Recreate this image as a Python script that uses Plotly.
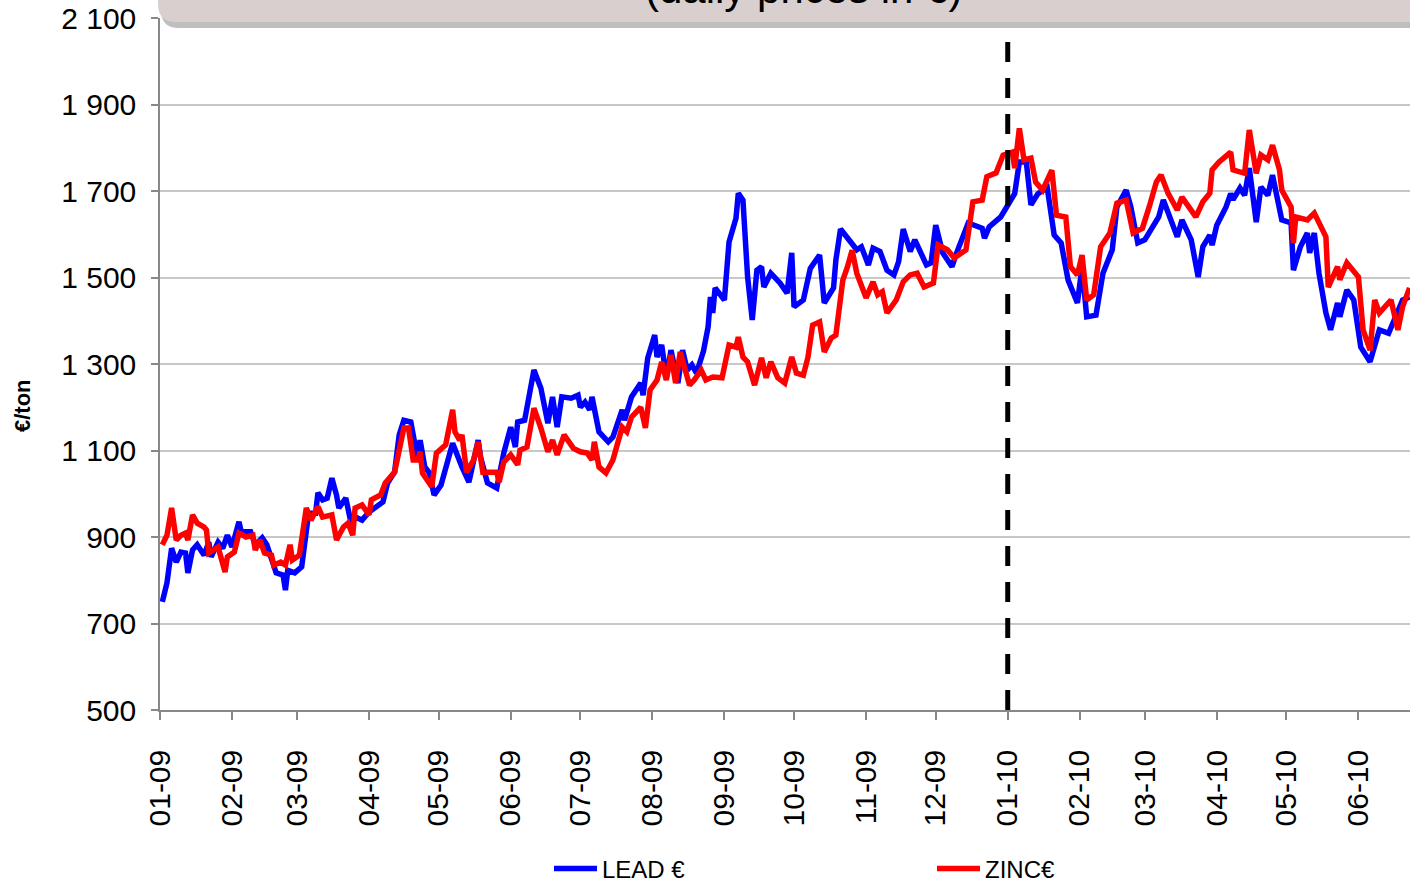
import pandas as pd
import plotly.graph_objects as go

# ---------------- data (days counted from 2009-01-01) ----------------
lead_day = [1, 3, 5, 7, 9, 11, 12, 14, 16, 19, 21, 22, 25, 27, 29, 31, 34, 35, 39, 41, 44, 46, 50, 53, 54, 55, 58,
            61, 64, 67, 68, 70, 72, 74, 76, 77, 80, 82, 85, 87, 90, 93, 96, 98, 101, 103, 105, 108,
            111, 112, 114, 116, 118, 121, 125, 126, 130, 133, 137, 138, 141, 145, 148, 151, 153, 154, 157, 160, 161,
            164, 167, 169, 171, 173, 177, 180, 181, 183, 185, 186, 189, 193, 195, 199, 200, 203, 207, 208, 210, 213,
            214, 216, 218, 220, 223, 225, 227, 229, 231, 234, 236, 237, 238, 239, 243, 245, 248, 249, 251, 253, 255,
            257, 259, 260, 263, 267, 270, 272, 273, 277, 280, 284, 286, 290, 291, 293, 297, 300, 302, 305, 307, 310,
            313, 316, 318, 320, 323, 325, 330, 332, 334, 337, 341, 343, 348, 354, 355, 357, 362, 364, 368, 370, 373,
            375, 378, 382, 385, 388, 391, 395, 397, 399, 403, 406, 410, 412, 416, 418, 421, 424, 426, 430, 432, 434,
            438, 440, 444, 447, 449, 452, 453, 455, 459, 461, 462, 465, 467, 469, 472, 474, 477, 479, 481, 483, 487,
            488, 491, 494, 495, 497, 499, 502, 504, 507, 508, 511, 514, 517, 521, 525, 529, 531, 535, 538]
lead_price = [750, 794, 874, 842, 865, 863, 817, 870, 882, 858, 888, 854, 888, 874, 904, 877, 935, 912, 912, 882, 898,
              882, 817, 812, 777, 823, 817, 831, 955, 955, 1002, 986, 990, 1036, 997, 967, 990, 939, 944, 939, 958,
              970, 981, 1025, 1050, 1136, 1170, 1166,
              1078, 1124, 1062, 1048, 997, 1020, 1090, 1117, 1062, 1027, 1124, 1085, 1025, 1013, 1094, 1154, 1108,
              1166, 1170, 1247, 1286,
              1244, 1163, 1224, 1154, 1224, 1221, 1228, 1200, 1212, 1194, 1224, 1143, 1120, 1131, 1194, 1170, 1224,
              1256, 1228, 1314, 1367,
              1316, 1344, 1268, 1332, 1256, 1332, 1286, 1298, 1279, 1330, 1386, 1455, 1418, 1476, 1448, 1582, 1637,
              1695, 1679, 1501, 1402,
              1517, 1525, 1478, 1510, 1487, 1464, 1557, 1432, 1448, 1521, 1552, 1441, 1476, 1540, 1612, 1582, 1564,
              1571, 1529, 1568, 1560,
              1517, 1506, 1536, 1612, 1560, 1587, 1529, 1534, 1621, 1557, 1525, 1557, 1626, 1614, 1591, 1617, 1640,
              1660, 1694, 1767, 1767,
              1668, 1694, 1708, 1598, 1580, 1494, 1441, 1525, 1409, 1413, 1510, 1564, 1663, 1702, 1663, 1580, 1587,
              1605, 1640, 1679, 1649,
              1594, 1633, 1587, 1501, 1571, 1598, 1575, 1621, 1663, 1694, 1680, 1707, 1690, 1753, 1628, 1709, 1690,
              1737, 1686, 1633, 1626,
              1517, 1571, 1603, 1557, 1603, 1510, 1418, 1379, 1441, 1409, 1471, 1448, 1339, 1305, 1379, 1371, 1395,
              1448, 1455]

zinc_day = [1, 3, 5, 7, 9, 11, 12, 14, 16, 19, 20, 21, 25, 26, 28, 29, 32, 34, 37, 40, 41, 43, 45, 48, 49, 52, 54,
            56, 57, 60, 63, 65, 68, 70, 74, 76, 79, 81, 83, 84, 87, 90, 91, 95, 97, 101, 105, 107, 109,
            111, 112, 113, 116, 117, 119, 123, 126, 127, 129, 130, 132, 135, 137, 139, 145, 146, 148, 151, 154, 155,
            158, 161, 164, 167, 169, 171, 174, 178, 181, 184, 186, 187, 189, 192, 195, 199, 201, 203, 207, 209, 211,
            214,
            216, 218, 220, 222, 224, 228, 230, 233, 235, 238, 242, 245, 248, 249, 251, 253, 256, 259, 261, 263, 266,
            269, 272, 274, 277, 279, 281, 284, 286, 289, 291, 292, 294, 296, 298, 300, 304, 307, 309, 311, 313, 317,
            320, 323,
            326, 329, 333, 335, 339, 342, 347, 350, 354, 356, 360, 363, 367, 368, 370, 372, 375, 377, 380, 384, 386,
            390, 392, 395, 397, 399, 402, 405, 409, 412, 416, 419, 423, 426, 429, 431, 434, 438, 440, 446, 449, 452,
            453, 456, 461, 462, 465, 467, 469, 472, 474, 477, 479, 482, 483, 487, 488, 489, 494, 497, 502, 503, 507,
            508, 511, 516, 518, 521, 523, 525, 530, 533, 535, 538]
zinc_price = [882, 904, 967, 893, 904, 909, 893, 951, 932, 923, 916, 863, 877, 858, 819, 854, 865, 909, 900, 904, 870,
              893, 863, 858, 835, 842, 835, 882, 847, 858, 967, 939, 970, 946, 951, 893, 923, 932, 904, 967, 974,
              951, 986, 997, 1025, 1050, 1152, 1152, 1078,
              1078, 1097, 1048, 1025, 1016, 1094, 1113, 1194, 1143, 1124, 1136, 1050, 1078, 1120, 1050, 1050, 1027,
              1073, 1090, 1067, 1101,
              1108, 1198, 1152, 1097, 1124, 1090, 1136, 1105, 1097, 1094, 1078, 1120, 1062, 1048, 1078, 1154, 1143,
              1177, 1200, 1152, 1240, 1263,
              1305, 1263, 1321, 1256, 1328, 1251, 1263, 1286, 1263, 1270, 1268, 1344, 1339, 1362, 1316, 1305, 1251,
              1314, 1268, 1305, 1268,
              1256, 1316, 1279, 1274, 1316, 1390, 1397, 1328, 1360, 1367, 1418, 1494, 1525, 1563, 1510, 1453, 1490,
              1460, 1467, 1418, 1448, 1490, 1506,
              1510, 1478, 1487, 1575, 1564, 1545, 1564, 1675, 1679, 1733, 1742, 1783, 1790, 1753, 1845, 1772, 1776,
              1721, 1702, 1748, 1644,
              1640, 1525, 1506, 1552, 1448, 1460, 1571, 1603, 1672, 1679, 1603, 1614, 1665, 1721, 1737, 1695, 1656,
              1686, 1640, 1675, 1695,
              1749, 1767, 1790, 1749, 1744, 1741, 1841, 1741, 1783, 1772, 1806, 1749, 1702, 1663, 1580, 1640, 1633,
              1649, 1594, 1478, 1525,
              1495, 1534, 1501, 1379, 1332, 1448, 1418, 1448, 1379, 1432, 1476]

series_names = ["LEAD €", "ZINC€"]
y_title = "€/ton"
chart_title = "(daily prices in €)"
break_date = "2010-01-01"

start = pd.Timestamp("2009-01-01")
lead_dates = start + pd.to_timedelta(lead_day, unit="D")
zinc_dates = start + pd.to_timedelta(zinc_day, unit="D")
x_end = start + pd.Timedelta(days=538.2)

FONT = "Liberation Sans, Arial, sans-serif"

fig = go.Figure()
fig.add_trace(go.Scatter(x=lead_dates, y=lead_price, mode="lines", name=series_names[0],
                         line=dict(color="#0000FF", width=5.5)))
fig.add_trace(go.Scatter(x=zinc_dates, y=zinc_price, mode="lines", name=series_names[1],
                         line=dict(color="#FF0000", width=5.5)))

# target plot area on screen: x 160..1410, y 18..710 (page body margin removed below)
L, R, T, B = 160, 1410, 18, 710
def px(x):
    return (x - L) / (R - L)
def py(y):
    return (B - y) / (B - T)

shapes = []
shapes.append(dict(type="line", xref="x", yref="y", x0=break_date, x1=break_date, y0=500, y1=2100,
                   line=dict(color="black", width=5, dash="20px,16px"), layer="above"))
def box_path(x0, x1, ytop, ybot, r):
    rx = r / (R - L)
    ry = r / (B - T)
    return (f"M {px(x0)},{py(ytop)} L {px(x0)},{py(ybot) + ry} "
            f"Q {px(x0)},{py(ybot)} {px(x0) + rx},{py(ybot)} "
            f"L {px(x1)},{py(ybot)} L {px(x1)},{py(ytop)} Z")
shapes.append(dict(type="path", xref="paper", yref="paper", path=box_path(161, 1420, -20, 28, 18),
                   fillcolor="#BFBFBF", line=dict(width=0), layer="above"))
shapes.append(dict(type="path", xref="paper", yref="paper", path=box_path(158, 1420, -20, 22, 18),
                   fillcolor="#D9CFCF", line=dict(width=0), layer="above"))

annotations = [
    dict(text=chart_title, xref="paper", yref="paper", x=px(803), y=py(-11), xanchor="center",
         yanchor="middle", showarrow=False, font=dict(family=FONT, size=42, color="black")),
    dict(text=f"<b>{y_title}</b>", xref="paper", yref="paper", x=px(22), y=py(406), xanchor="center",
         yanchor="middle", textangle=-90, showarrow=False, font=dict(family=FONT, size=22, color="black")),
]

fig.update_layout(
    width=1410, height=884,
    margin=dict(l=L, r=1410 - R, t=T, b=884 - B, autoexpand=False),
    paper_bgcolor="white", plot_bgcolor="white",
    separators=", ",
    font=dict(family=FONT, color="black"),
    showlegend=True,
    legend=dict(orientation="h", x=px(549), xanchor="left", y=py(869), yanchor="middle",
                font=dict(family=FONT, size=24, color="black"), entrywidth=325, itemwidth=43,
                bgcolor="rgba(0,0,0,0)"),
    shapes=shapes,
    annotations=annotations,
)
fig.update_xaxes(type="date", range=[start, x_end], tick0="2009-01-01", dtick="M1", tickformat="%m-%y",
                 tickangle=-90, ticks="outside", ticklen=8, tickwidth=1.5, tickcolor="#888888",
                 showline=True, linecolor="#888888", linewidth=1.5, showgrid=False, zeroline=False,
                 tickfont=dict(family=FONT, size=30, color="black"), ticklabelstandoff=18,
                 ticklabeloverflow="allow")
fig.update_yaxes(range=[500, 2100], tick0=500, dtick=200, tickformat=",d",
                 ticks="outside", ticklen=7, tickwidth=1.5, tickcolor="#888888",
                 showline=True, linecolor="#888888", linewidth=1.5,
                 showgrid=True, gridcolor="#C8C8C8", gridwidth=1.5, zeroline=False,
                 tickfont=dict(family=FONT, size=30, color="black"), ticklabelstandoff=9,
                 ticklabeloverflow="allow")

fig.write_html("out.html", config={"displayModeBar": False},
               post_script="document.body.style.margin='0';document.body.style.overflow='hidden';")
